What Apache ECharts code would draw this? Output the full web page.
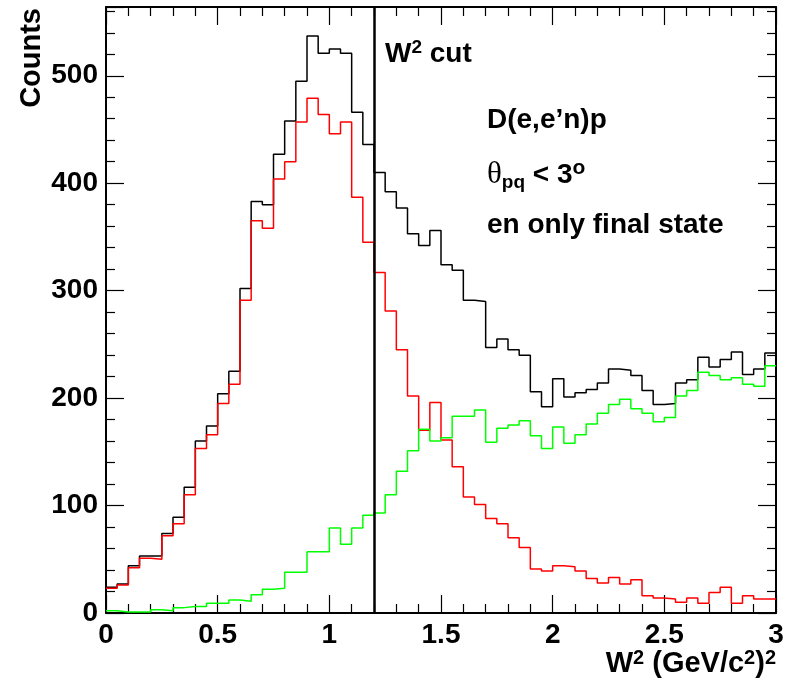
<!DOCTYPE html>
<html>
<head>
<meta charset="utf-8">
<script src="https://cdn.jsdelivr.net/npm/echarts@6/dist/echarts.min.js"></script>
<style>
html, body { margin: 0; padding: 0; background: #fff; }
#chart { width: 790px; height: 682px; }
</style>
</head>
<body>
<div id="chart"></div>
<script>
// W^2 histograms, 60 bins of 0.05 from 0 to 3
var binWidth = 0.05;
var allCounts = [24, 27, 44, 53, 53, 74, 89, 117, 160, 174, 204, 225, 302, 383, 380, 427, 458, 495, 537, 521,
    525, 521, 466, 436, 410, 392, 377, 353, 342, 356, 324, 319, 291, 290, 247, 255, 245, 240, 206, 192,
    218, 201, 205, 208, 214, 227, 226, 221, 207, 194, 195, 214, 217, 238, 229, 236, 243, 222, 227, 242];
var redCounts = [23, 26, 42, 51, 50, 72, 83, 110, 153, 166, 195, 213, 291, 365, 358, 404, 420, 457, 479, 464,
    446, 457, 387, 345, 317, 281, 245, 202, 170, 196, 161, 136, 108, 101, 88, 83, 70, 61, 41, 39,
    44, 43, 39, 32, 28, 33, 27, 31, 16, 14, 13, 10, 14, 9, 19, 24, 9, 16, 13, 13];
var greenCounts = [2, 1, 1, 1, 3, 2, 5, 6, 6, 9, 9, 12, 11, 17, 22, 23, 38, 38, 57, 57,
    79, 64, 79, 91, 93, 110, 132, 151, 171, 160, 163, 183, 183, 189, 159, 172, 175, 179, 165, 153,
    173, 158, 166, 176, 186, 194, 199, 190, 186, 178, 182, 202, 207, 224, 221, 217, 219, 213, 211, 230];
var w2Cut = 1.2;
var xMin = 0, xMax = 3;
var yMin = 0, yMax = 564;

function toSteps(counts) {
    var pts = counts.map(function (v, i) {
        return [+(i * binWidth).toFixed(2), v];
    });
    pts.push([xMax, counts[counts.length - 1]]);
    return pts;
}

var font = "'Liberation Sans', Arial, Helvetica, sans-serif";
var tickStyle = { color: '#000', width: 1.2 };

function xAx(pos, labels) {
    return {
        type: 'value', position: pos, min: xMin, max: xMax, interval: 0.5,
        axisLine: { show: true, onZero: false, lineStyle: { color: '#000', width: 2 } },
        axisTick: { show: true, inside: true, length: 18, lineStyle: tickStyle },
        minorTick: { show: true, splitNumber: 5, length: 9, lineStyle: tickStyle },
        axisLabel: {
            show: labels, color: '#000', fontSize: 28, fontWeight: 'bold', fontFamily: font, margin: 8
        },
        splitLine: { show: false }
    };
}
function yAx(pos, labels) {
    return {
        type: 'value', position: pos, min: yMin, max: yMax, interval: 100,
        axisLine: { show: true, onZero: false, lineStyle: { color: '#000', width: 2 } },
        axisTick: { show: true, inside: true, length: 18, lineStyle: tickStyle },
        minorTick: { show: true, splitNumber: 5, length: 9, lineStyle: tickStyle },
        axisLabel: {
            show: labels, color: '#000', fontSize: 28, fontWeight: 'bold', fontFamily: font, margin: 8,
            formatter: function (v) { return v % 100 === 0 ? String(v) : ''; }
        },
        splitLine: { show: false }
    };
}

var bold = function (size, extra) {
    var s = { fill: '#000', fontSize: size, fontWeight: 'bold', fontFamily: font, lineHeight: 32 };
    for (var k in extra) s[k] = extra[k];
    return s;
};
// raised superscript token
var sup = function (size) {
    return bold(size, { verticalAlign: 'top', lineHeight: size, padding: [0, 0, 8, 0] });
};

var myChart = echarts.init(document.getElementById('chart'), null, { renderer: 'canvas' });
var option = {
    animation: false,
    backgroundColor: '#fff',
    grid: { left: 106, right: 14, top: 7, bottom: 69, containLabel: false },
    xAxis: [xAx('bottom', true), xAx('top', false)],
    yAxis: [yAx('left', true), yAx('right', false)],
    series: [{
        name: 'all', type: 'line', step: 'end', symbol: 'none',
        lineStyle: { color: '#000', width: 1.5 },
        data: toSteps(allCounts),
        markLine: {
            silent: true, symbol: ['none', 'none'], label: { show: false },
            lineStyle: { color: '#000', width: 2.5, type: 'solid' },
            data: [{ xAxis: w2Cut }]
        }
    }, {
        name: 'red', type: 'line', step: 'end', symbol: 'none',
        lineStyle: { color: '#ff0000', width: 1.5 },
        data: toSteps(redCounts)
    }, {
        name: 'green', type: 'line', step: 'end', symbol: 'none',
        lineStyle: { color: '#00ff00', width: 1.5 },
        data: toSteps(greenCounts)
    }],
    graphic: [{
        type: 'text', x: 32, y: 8, rotation: Math.PI / 2,
        style: {
            text: 'Counts', fill: '#000', font: 'bold 29px ' + font,
            align: 'right', verticalAlign: 'middle'
        }
    }, {
        type: 'text', x: 776, y: 664,
        style: {
            text: '{b|W}{s|2}{b| (GeV/c}{s|2}{b|)}{s|2}',
            align: 'right', verticalAlign: 'middle',
            rich: { b: bold(29), s: sup(20) }
        }
    }, {
        type: 'text', x: 385, y: 54,
        style: {
            text: '{b|W}{s|2}{b| cut}',
            align: 'left', verticalAlign: 'middle',
            rich: { b: bold(28), s: sup(19) }
        }
    }, {
        type: 'text', x: 487, y: 175,
        style: {
            text: '{t|\u03b8}{sub|pq}{b| < 3}{s|o}',
            align: 'left', verticalAlign: 'middle',
            rich: {
                t: { fill: '#000', fontSize: 31, fontFamily: "'Liberation Serif', serif", lineHeight: 34 },
                sub: bold(19, { verticalAlign: 'bottom', lineHeight: 22 }),
                b: bold(28, { lineHeight: 34 }),
                s: sup(21)
            }
        }
    }, {
        type: 'text', x: 487, y: 120,
        style: {
            text: "D(e,e\u2019n)p", fill: '#000', font: 'bold 28px ' + font,
            align: 'left', verticalAlign: 'middle'
        }
    }, {
        type: 'text', x: 487, y: 225,
        style: {
            text: 'en only final state', fill: '#000', font: 'bold 28px ' + font,
            align: 'left', verticalAlign: 'middle'
        }
    }]
};
myChart.setOption(option);
window.addEventListener('resize', function () {
    myChart.resize();
});
</script>
</body>
</html>
